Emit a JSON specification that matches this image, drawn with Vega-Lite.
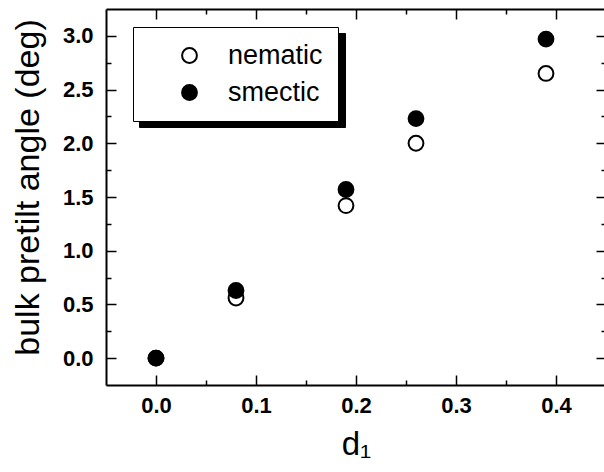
{
  "$schema": "https://vega.github.io/schema/vega-lite/v6.json",
  "autosize": {"type": "none"},
  "padding": {"left": 106, "top": 9, "right": 0, "bottom": 87},
  "width": 500,
  "height": 376,
  "background": "white",
  "config": {
    "view": {"stroke": null},
    "font": "Liberation Sans",
    "axis": {
      "domainColor": "black",
      "domainWidth": 2,
      "tickColor": "black",
      "tickWidth": 1.5,
      "grid": false,
      "labelFont": "Liberation Sans",
      "labelFontWeight": "bold",
      "labelFontSize": 22,
      "labelColor": "black",
      "titleFont": "Liberation Sans",
      "titleFontWeight": "normal",
      "titleColor": "black"
    }
  },
  "data": {
    "values": [
      {"d1": 0.0, "angle": 0.0, "phase": "nematic"},
      {"d1": 0.08, "angle": 0.56, "phase": "nematic"},
      {"d1": 0.19, "angle": 1.42, "phase": "nematic"},
      {"d1": 0.26, "angle": 2.0, "phase": "nematic"},
      {"d1": 0.39, "angle": 2.65, "phase": "nematic"},
      {"d1": 0.0, "angle": 0.0, "phase": "smectic"},
      {"d1": 0.08, "angle": 0.63, "phase": "smectic"},
      {"d1": 0.19, "angle": 1.57, "phase": "smectic"},
      {"d1": 0.26, "angle": 2.23, "phase": "smectic"},
      {"d1": 0.39, "angle": 2.97, "phase": "smectic"}
    ]
  },
  "layer": [
    {
      "mark": {"type": "point", "filled": true, "opacity": 0, "size": 220},
      "encoding": {
        "x": {
          "field": "d1", "type": "quantitative",
          "scale": {"domain": [-0.05, 0.45], "nice": false, "zero": false},
          "axis": {
            "orient": "top",
            "title": null,
            "labels": false,
            "values": [0, 0.05, 0.1, 0.15, 0.2, 0.25, 0.3, 0.35, 0.4],
            "tickSize": {"condition": {"test": "abs(datum.value*10 - round(datum.value*10)) < 1e-6", "value": -10}, "value": -5}
          }
        },
        "y": {
          "field": "angle", "type": "quantitative",
          "scale": {"domain": [-0.25, 3.25], "nice": false, "zero": false},
          "axis": {
            "orient": "right",
            "title": null,
            "labels": false,
            "values": [0, 0.25, 0.5, 0.75, 1, 1.25, 1.5, 1.75, 2, 2.25, 2.5, 2.75, 3],
            "tickSize": {"condition": {"test": "abs(datum.value*2 - round(datum.value*2)) < 1e-6", "value": -10}, "value": -5}
          }
        },
        "shape": {
          "field": "phase", "type": "nominal",
          "scale": {"domain": ["nematic", "smectic"], "range": ["circle", "circle"]},
          "legend": {
            "orient": "none",
            "legendX": 33,
            "legendY": 24,
            "title": null,
            "zindex": 1,
            "fillColor": "black",
            "strokeColor": "black",
            "padding": 15,
            "rowPadding": 9,
            "symbolSize": 220,
            "symbolFillColor": "black",
            "symbolStrokeColor": "black",
            "symbolStrokeWidth": 2,
            "symbolOpacity": 1,
            "symbolOffset": 28,
            "labelOffset": 121,
            "labelExpr": "''",
            "labelFont": "Liberation Sans",
            "labelFontSize": 27,
            "labelColor": "black"
          }
        }
      }
    },
    {
      "mark": {"type": "point", "filled": true, "opacity": 0, "size": 220},
      "encoding": {
        "x": {
          "field": "d1", "type": "quantitative",
          "scale": {"domain": [-0.05, 0.45], "nice": false, "zero": false},
          "axis": {
            "orient": "bottom",
            "title": null,
            "labels": false,
            "domain": false,
            "values": [0.05, 0.15, 0.25, 0.35],
            "tickSize": -5
          }
        },
        "y": {
          "field": "angle", "type": "quantitative",
          "scale": {"domain": [-0.25, 3.25], "nice": false, "zero": false},
          "axis": {
            "orient": "left",
            "title": null,
            "labels": false,
            "domain": false,
            "values": [0.25, 0.75, 1.25, 1.75, 2.25, 2.75],
            "tickSize": -5
          }
        }
      }
    },
    {
      "mark": {"type": "point", "filled": true, "stroke": "black", "strokeWidth": 2, "size": 220, "opacity": 1},
      "encoding": {
        "x": {
          "field": "d1", "type": "quantitative",
          "scale": {"domain": [-0.05, 0.45], "nice": false, "zero": false},
          "axis": {
            "orient": "bottom",
            "title": "d₁",
            "titleFontSize": 33,
            "titlePadding": 12,
            "labelFontSize": 22,
            "labelFontWeight": "bold",
            "values": [0, 0.1, 0.2, 0.3, 0.4],
            "format": ".1f",
            "tickSize": -10,
            "labelPadding": 20
          }
        },
        "y": {
          "field": "angle", "type": "quantitative",
          "scale": {"domain": [-0.25, 3.25], "nice": false, "zero": false},
          "axis": {
            "orient": "left",
            "title": "bulk pretilt angle (deg)",
            "titleFontSize": 34,
            "titleX": -78,
            "titleY": 178,
            "titleAngle": -90,
            "titleAlign": "center",
            "titleBaseline": "middle",
            "labelFontSize": 22,
            "labelFontWeight": "bold",
            "values": [0, 0.5, 1, 1.5, 2, 2.5, 3],
            "format": ".1f",
            "tickSize": -10,
            "labelPadding": 23
          }
        },
        "fill": {
          "field": "phase", "type": "nominal",
          "scale": {"domain": ["nematic", "smectic"], "range": ["white", "black"]},
          "legend": {
            "orient": "none",
            "legendX": 27,
            "legendY": 18,
            "title": null,
            "zindex": 2,
            "fillColor": "white",
            "strokeColor": "black",
            "padding": 15,
            "rowPadding": 9,
            "symbolType": "circle",
            "symbolSize": 220,
            "symbolStrokeColor": "black",
            "symbolStrokeWidth": 2,
            "symbolOffset": 28,
            "labelOffset": 25,
            "labelFont": "Liberation Sans",
            "labelFontSize": 27,
            "labelColor": "black"
          }
        }
      }
    }
  ],
  "resolve": {
    "axis": {"x": "independent", "y": "independent"},
    "legend": {"shape": "independent", "fill": "independent"}
  }
}
